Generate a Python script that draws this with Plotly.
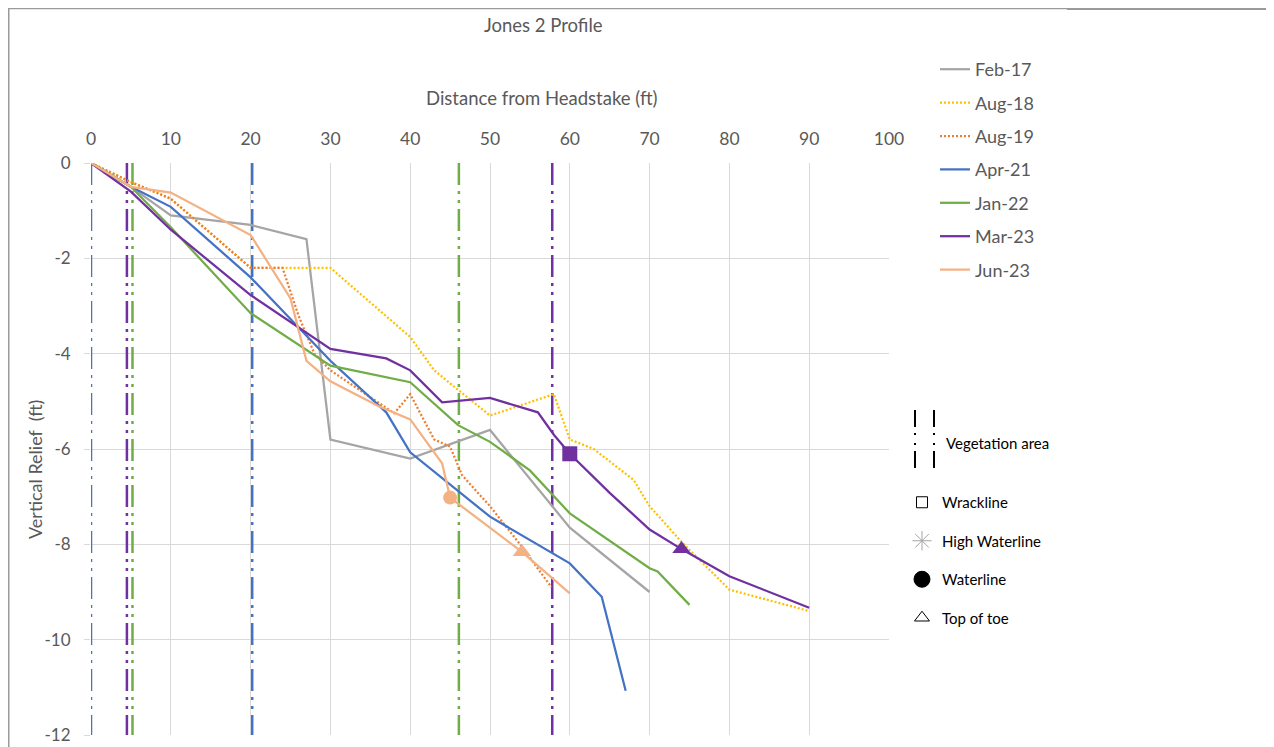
import plotly.graph_objects as go

# ---------------- data ----------------
feb17_x = [0, 5, 10, 20, 27, 30, 40, 50, 60, 70]
feb17_y = [0, -0.5, -1.1, -1.3, -1.6, -5.8, -6.2, -5.6, -7.65, -9.0]

aug18_x = [0, 5, 10, 20, 30, 40, 43, 50, 58, 60, 63, 68, 70, 74, 80, 90]
aug18_y = [0, -0.4, -0.75, -2.2, -2.2, -3.65, -4.35, -5.3, -4.85, -5.8, -6.0, -6.65, -7.2, -7.95, -8.95, -9.4]

aug19_x = [0, 5, 10, 20, 24, 26, 28, 30, 38, 40, 43, 45, 46.5, 50, 54, 57.7]
aug19_y = [0, -0.4, -0.75, -2.2, -2.2, -3.2, -4.0, -4.35, -5.25, -4.85, -5.8, -5.95, -6.55, -7.2, -8.05, -8.9]

apr21_x = [0, 5, 10, 20, 30, 37, 40, 50, 60, 64, 67]
apr21_y = [0, -0.5, -0.92, -2.4, -4.15, -5.23, -6.07, -7.42, -8.4, -9.1, -11.07]

jan22_x = [0, 5, 10, 20, 30, 40, 46, 50, 55, 60, 70, 71, 75]
jan22_y = [0, -0.5, -1.35, -3.15, -4.25, -4.6, -5.5, -5.85, -6.45, -7.35, -8.5, -8.57, -9.27]

mar23_x = [0, 5, 10, 20, 30, 37, 40, 44, 50, 56, 58, 60, 65, 70, 74, 80, 90]
mar23_y = [0, -0.6, -1.4, -2.77, -3.9, -4.1, -4.35, -5.02, -4.93, -5.23, -5.7, -6.1, -6.92, -7.69, -8.1, -8.67, -9.33]

jun23_x = [0, 5, 10, 20, 25, 27, 30, 36, 40, 44, 45, 54, 60]
jun23_y = [0, -0.5, -0.62, -1.51, -2.84, -4.15, -4.58, -5.1, -5.38, -6.3, -7.02, -8.16, -9.03]

# feature points
mar23_wrack_x, mar23_wrack_y = [60], [-6.1]
mar23_toe_x, mar23_toe_y = [74], [-8.1]
jun23_water_x, jun23_water_y = [45], [-7.02]
jun23_toe_x, jun23_toe_y = [54], [-8.16]

# vegetation area boundaries (ft)
veg_apr21 = [0, 20.2]
veg_jan22 = [5.2, 46.1]
veg_mar23 = [4.5, 57.8]

x_ticks = [0, 10, 20, 30, 40, 50, 60, 70, 80, 90, 100]
y_ticks = [0, -2, -4, -6, -8, -10, -12]
y_tick_text = ["0", "-2", "-4", "-6", "-8", "-10", "-12"]

# ---------------- style ----------------
FONT = "Lato"
TXT = "#595959"
C_FEB17 = "#A5A5A5"
C_AUG18 = "#FFC000"
C_AUG19 = "#ED7D31"
C_APR21 = "#4472C4"
C_JAN22 = "#70AD47"
C_MAR23 = "#7030A0"
C_JUN23 = "#F4B183"

OFF = 8  # page body margin
W, H = 1274 - OFF, 747 - OFF
# plot area in screen pixels
L, R, T, B = 91, 889, 163, 735


def px2x(px):
    return (px - L) / (R - L)


def py2y(py):
    return (B - py) / (B - T)


fig = go.Figure()

VEG_DASH = "22px,6px,3px,6px,3px,6px"
for xs, col in [(veg_apr21, C_APR21), (veg_jan22, C_JAN22), (veg_mar23, C_MAR23)]:
    for xv in xs:
        fig.add_trace(go.Scatter(x=[xv, xv], y=[0, -12], mode="lines",
                                 line=dict(color=col, width=2.5, dash=VEG_DASH),
                                 showlegend=False, hoverinfo="skip"))

series = [
    ("Feb-17", feb17_x, feb17_y, C_FEB17, "solid"),
    ("Aug-18", aug18_x, aug18_y, C_AUG18, "2px,2px"),
    ("Aug-19", aug19_x, aug19_y, C_AUG19, "2px,2px"),
    ("Apr-21", apr21_x, apr21_y, C_APR21, "solid"),
    ("Jan-22", jan22_x, jan22_y, C_JAN22, "solid"),
    ("Mar-23", mar23_x, mar23_y, C_MAR23, "solid"),
    ("Jun-23", jun23_x, jun23_y, C_JUN23, "solid"),
]
for name, xs, ys, col, dash in series:
    fig.add_trace(go.Scatter(x=xs, y=ys, mode="lines", name=name,
                             legendgroup=name,
                             line=dict(color=col, width=2.25, dash=dash)))

# feature markers on profiles
fig.add_trace(go.Scatter(x=mar23_wrack_x, y=mar23_wrack_y, mode="markers", showlegend=False,
                         marker=dict(symbol="square", size=15, color=C_MAR23)))
fig.add_trace(go.Scatter(x=mar23_toe_x, y=mar23_toe_y, mode="markers", showlegend=False,
                         marker=dict(symbol="triangle-up", size=16, color=C_MAR23)))
fig.add_trace(go.Scatter(x=jun23_water_x, y=jun23_water_y, mode="markers", showlegend=False,
                         marker=dict(symbol="circle", size=14, color=C_JUN23)))
fig.add_trace(go.Scatter(x=jun23_toe_x, y=jun23_toe_y, mode="markers", showlegend=False,
                         marker=dict(symbol="triangle-up", size=16, color=C_JUN23)))

# second legend: feature symbols
sym_legend = [
    ("Wrackline", "square-open", "black", 11),
    ("High Waterline", "asterisk-open", "#A5A5A5", 16),
    ("Waterline", "circle", "black", 16),
    ("Top of toe", "triangle-up-open", "black", 13),
]
for name, sym, col, sz in sym_legend:
    fig.add_trace(go.Scatter(x=[None], y=[None], mode="markers", name=name,
                             legend="legend2", legendgroup=name,
                             marker=dict(symbol=sym, color=col, size=sz,
                                         line=dict(color=col, width=1))))

shapes = []
# vegetation area legend glyph
for gx in [915, 934]:
    shapes.append(dict(type="line", xref="paper", yref="paper",
                       x0=px2x(gx), x1=px2x(gx), y0=py2y(410), y1=py2y(468),
                       line=dict(color="black", width=2, dash="17px,6px,2px,8px,2px,6px")))
# chart frame
shapes.append(dict(type="line", xref="paper", yref="paper",
                   x0=px2x(8.5), x1=px2x(8.5), y0=py2y(8), y1=py2y(760),
                   line=dict(color="#9A9A9A", width=2)))
shapes.append(dict(type="line", xref="paper", yref="paper",
                   x0=px2x(8), x1=px2x(1068), y0=py2y(8.5), y1=py2y(8.5),
                   line=dict(color="#9A9A9A", width=1.5)))
shapes.append(dict(type="line", xref="paper", yref="paper",
                   x0=px2x(1067), x1=px2x(1280), y0=py2y(9), y1=py2y(9),
                   line=dict(color="#9A9A9A", width=2)))

annotations = [
    dict(text="Jones 2 Profile", x=px2x(543), y=py2y(25), xref="paper", yref="paper",
         xanchor="center", yanchor="middle",
         showarrow=False, font=dict(family=FONT, size=18.5, color=TXT)),
    dict(text="Distance from Headstake (ft)", x=px2x(542), y=py2y(98), xref="paper", yref="paper",
         xanchor="center", yanchor="middle",
         showarrow=False, font=dict(family=FONT, size=18.5, color=TXT)),
    dict(text="Vertical Relief  (ft)", x=px2x(35), y=py2y(470), xref="paper", yref="paper",
         xanchor="center", yanchor="middle", textangle=-90,
         showarrow=False, font=dict(family=FONT, size=18, color=TXT)),
    dict(text="Vegetation area", x=px2x(944), y=py2y(443), xref="paper", yref="paper",
         xanchor="left", yanchor="middle",
         showarrow=False, font=dict(family=FONT, size=15, color="black")),
]

fig.update_layout(
    width=W, height=H,
    margin=dict(l=L - OFF, r=W - (R - OFF), t=T - OFF, b=H - (B - OFF), autoexpand=False),
    paper_bgcolor="white", plot_bgcolor="white",
    font=dict(family=FONT, color=TXT),
    shapes=shapes, annotations=annotations,
    legend=dict(x=px2x(935), y=py2y(51), xanchor="left", yanchor="top",
                font=dict(family=FONT, size=18, color=TXT),
                tracegroupgap=7, bgcolor="rgba(0,0,0,0)", itemwidth=30),
    legend2=dict(x=px2x(902), y=py2y(486), xanchor="left", yanchor="top",
                 font=dict(family=FONT, size=15, color="black"),
                 tracegroupgap=16, bgcolor="rgba(0,0,0,0)"),
)
fig.update_xaxes(range=[0, 100], side="top", tickvals=x_ticks, automargin=False,
                 showgrid=True, gridcolor="#D9D9D9", gridwidth=1,
                 zeroline=False, showline=False, ticks="",
                 tickfont=dict(family=FONT, size=17.5, color=TXT),
                 ticklabelstandoff=14)
fig.update_yaxes(range=[-12, 0], tickvals=y_ticks, ticktext=y_tick_text, automargin=False,
                 showgrid=True, gridcolor="#D9D9D9", gridwidth=1,
                 zeroline=False, showline=False,
                 ticks="outside", ticklen=6, tickcolor="#D9D9D9",
                 tickfont=dict(family=FONT, size=17, color=TXT),
                 ticklabelstandoff=10)

fig.write_html("out.html")
